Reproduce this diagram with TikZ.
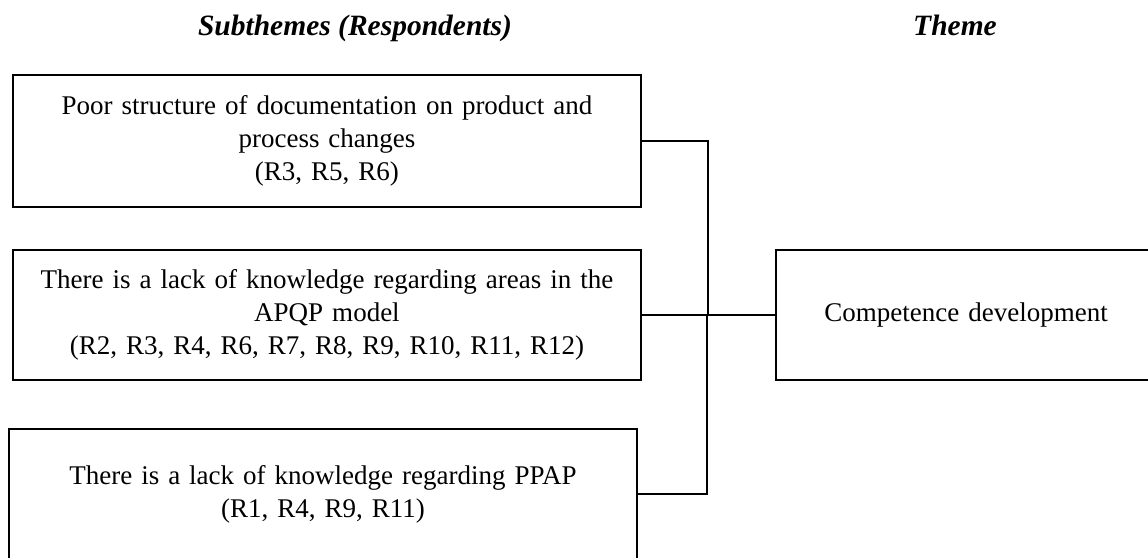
\documentclass[tikz,border=0pt]{standalone}
\usepackage{fontspec}
\setmainfont{Liberation Serif}
\begin{document}
\begin{tikzpicture}[x=1pt,y=-1pt,
  every node/.style={inner sep=0pt, outer sep=0pt},
  heading/.style={anchor=base, font=\fontsize{29.5}{34}\selectfont\bfseries\itshape},
  boxtext/.style={font=\fontsize{27}{33}\selectfont, text width=600pt, align=center},
  subbox/.style={draw=black, line width=1.3pt, boxtext, minimum width=628pt, minimum height=#1},
  link/.style={draw=black, line width=1.3pt, line cap=rect}
]
\useasboundingbox (0,0) rectangle (1148,557);

% column headings
\node[heading] (hsub) at (355,35) {Subthemes (Respondents)};
\node[heading] (htheme) at (955,35) {Theme};

% subtheme boxes
\node[subbox=132pt] (s1) at (327,141)
  {Poor structure of documentation on product and\\ process changes\\ (R3, R5, R6)};
\node[subbox=130pt] (s2) at (327,315)
  {There is a lack of knowledge regarding areas in the\\ APQP model\\ (R2, R3, R4, R6, R7, R8, R9, R10, R11, R12)};
\node[subbox=130pt] (s3) at (323,494)
  {There is a lack of knowledge regarding PPAP\\ (R1, R4, R9, R11)};

% theme box
\node[draw=black, line width=1.3pt, boxtext, text width=360pt, minimum width=380pt, minimum height=130pt]
  (theme) at (966,315) {Competence development};

% bracket joining the subthemes to the theme
\coordinate (jtop) at (708,315);
\coordinate (jbot) at (707,315);
\draw[link] (s1.east) -| (jtop);
\draw[link] (s2.east) -- (theme.west);
\draw[link] (s3.east) -| (jbot);
\end{tikzpicture}
\end{document}
